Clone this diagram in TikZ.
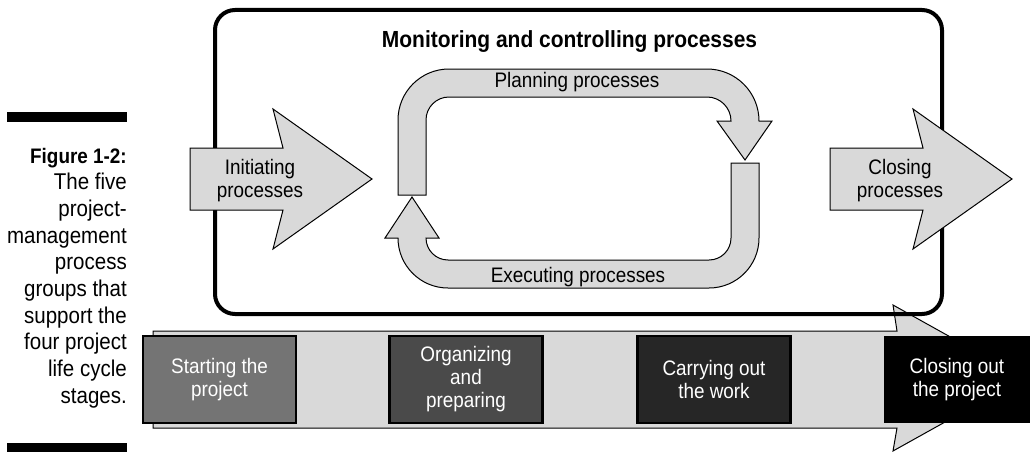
\documentclass[tikz,border=0pt]{standalone}
\usepackage{fontspec}
\setmainfont{Liberation Sans}[FakeStretch=0.9]
\definecolor{pgray}{HTML}{D9D9D9}
\definecolor{stageA}{HTML}{747474}
\definecolor{stageB}{HTML}{4A4A4A}
\definecolor{stageC}{HTML}{262626}
\tikzset{
	band/.style={fill=pgray,draw=black,line width=1pt},
	lbl/.style={font=\fontsize{21}{23}\selectfont,align=center,inner sep=0pt},
	stagebox/.style={draw=black,line width=2.5pt,text=white,minimum width=153pt,minimum height=87pt,inner sep=0pt,align=center,font=\fontsize{21}{23}\selectfont}
}
\begin{document}
\begin{tikzpicture}[x=1pt,y=-1pt]
\useasboundingbox (0,0) rectangle (1030,452);
% life cycle stages
\draw[band] (153,331)--(897,331)--(893,305)--(1024,378)--(893,451)--(897,428)--(153,428)--cycle;
\foreach \x/\c/\t [count=\i] in {219.5/stageA/{Starting the\\project},466/stageB/{Organizing\\and\\preparing},714/stageC/{Carrying out\\the work}}{
	\node[stagebox,fill=\c,name=s\i] at (\x,379.5){\t};
};
\node[stagebox,fill=black,draw=none,minimum width=146pt,name=s4] at (957,379.5){Closing out\\the project};
% process groups
\node[draw,line width=4pt,rounded corners=20pt,minimum width=727pt,minimum height=304pt,name=mon] at (578.5,162){};
\node[font=\bfseries\fontsize{23.3}{25}\selectfont,anchor=base,name=montitle] at (569.5,48){Monitoring and controlling processes};
\draw[band] (398,195)--(398,120) arc[start angle=180,end angle=270,radius=51]--(707,69) arc[start angle=270,end angle=360,radius=52]--(772,121)--(745,160)--(717,121)--(731,121) arc[start angle=0,end angle=-90,radius=24]--(449,97) arc[start angle=270,end angle=180,radius=23]--(426,195)--cycle;
\draw[band] (731,163)--(759,163)--(759,238) arc[start angle=0,end angle=90,radius=50]--(448,288) arc[start angle=90,end angle=180,radius=50]--(385,238)--(412,197)--(439,238)--(426,238) arc[start angle=180,end angle=90,radius=22]--(709,260) arc[start angle=90,end angle=0,radius=22]--cycle;
\node[lbl,anchor=base,name=plan] at (577,88){Planning processes};
\node[lbl,anchor=base,name=exec] at (578,282){Executing processes};
\foreach \dx/\t [count=\i] in {0/Initiating,640/Closing}{
	\draw[band,xshift=\dx] (190,148)--(283,148)--(273,109)--(372,179)--(273,249)--(283,210)--(190,210)--cycle;
	\node[lbl,name=side\i] at (260+\dx,181){\t\\processes};
};
% caption
\fill (7,112) rectangle (127,122);
\fill (7,443) rectangle (127,452);
\node[anchor=base east,font=\bfseries\fontsize{21}{23}\selectfont,inner sep=0pt,name=cap0] at (127,163){Figure 1-2:};
\foreach \t [count=\i] in {The five,project-,management,process,groups that,support the,four project,life cycle,stages.}{
	\node[anchor=base east,font=\fontsize{22.8}{25}\selectfont,inner sep=0pt,name=cap\i] at (127,163+26.7*\i){\t};
};
\end{tikzpicture}
\end{document}
